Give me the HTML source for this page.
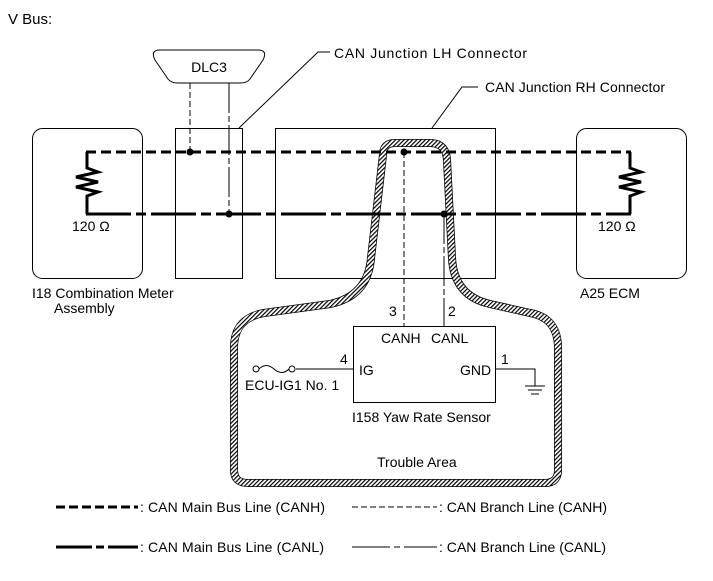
<!DOCTYPE html>
<html><head><style>body{margin:0;background:#fff}svg{display:block}text{font-family:"Liberation Sans",Arial,sans-serif;fill:#000}</style></head>
<body>
<svg width="713" height="581" viewBox="0 0 713 581" xmlns="http://www.w3.org/2000/svg">
<defs>
<pattern id="h" width="3" height="3" patternUnits="userSpaceOnUse" patternTransform="rotate(45)">
<rect width="3" height="3" fill="#fff"/><rect width="1.2" height="3" fill="#000"/>
</pattern>
</defs>
<text x="8" y="24" font-size="15">V Bus:</text>
<!-- DLC3 -->
<path d="M160 50 H258 Q268 50 263 60 L250 79 Q247 83 240 83 H178 Q171 83 168 79 L155 60 Q150 50 160 50 Z" fill="#fff" stroke="#000" stroke-width="1"/>
<text x="209" y="72" font-size="14" text-anchor="middle">DLC3</text>
<!-- boxes -->
<rect x="32.5" y="128.5" width="110" height="150" rx="10" fill="none" stroke="#000"/>
<rect x="175.5" y="128.5" width="67" height="150" fill="none" stroke="#000"/>
<rect x="275.5" y="128.5" width="220" height="150" fill="none" stroke="#000"/>
<rect x="576.5" y="128.5" width="110" height="150" rx="10" fill="none" stroke="#000"/>
<!-- leaders -->
<polyline points="239,128 318,52 330,52" fill="none" stroke="#000"/>
<text x="334" y="58" font-size="14" textLength="193">CAN Junction LH Connector</text>
<polyline points="432,128 462,87 478,87" fill="none" stroke="#000"/>
<text x="485" y="92" font-size="14" textLength="180">CAN Junction RH Connector</text>
<!-- trouble area -->
<path d="M383 155 Q383 143 395 143 H430 Q446 143 447 160 L452 258 Q454 296 490 304 L530 313 Q558 318 558 348 V470 Q558 483 545 483 H248 Q234 483 234 470 V348 Q234 318 264 313 L330 304 Q368 296 371 258 Z" fill="none" stroke="#000" stroke-width="8"/>
<path d="M383 155 Q383 143 395 143 H430 Q446 143 447 160 L452 258 Q454 296 490 304 L530 313 Q558 318 558 348 V470 Q558 483 545 483 H248 Q234 483 234 470 V348 Q234 318 264 313 L330 304 Q368 296 371 258 Z" fill="none" stroke="url(#h)" stroke-width="6.5"/>
<!-- resistors -->
<path d="M87 152 V168 L98 172 L76 177 L98 182 L76 187 L98 192 L87 196 V214" fill="none" stroke="#000" stroke-width="3"/>
<path d="M630 152 V168 L641 172 L619 177 L641 182 L619 187 L641 192 L630 196 V214" fill="none" stroke="#000" stroke-width="3"/>
<text x="72" y="231" font-size="14">120 Ω</text>
<text x="598" y="231" font-size="14">120 Ω</text>
<!-- main lines -->
<line x1="86" y1="152" x2="631" y2="152" stroke="#000" stroke-width="3" stroke-dasharray="10,5"/>
<line x1="86" y1="214" x2="631" y2="214" stroke="#000" stroke-width="3" stroke-dasharray="45,5,10,5"/>
<!-- branches -->
<line x1="190" y1="83" x2="190" y2="152" stroke="#000" stroke-width="1" stroke-dasharray="6,3"/>
<line x1="229" y1="83" x2="229" y2="214" stroke="#000" stroke-width="1" stroke-dasharray="30,3,6,3"/>
<line x1="404" y1="152" x2="404" y2="326" stroke="#000" stroke-width="1" stroke-dasharray="6,3"/>
<line x1="444" y1="214" x2="444" y2="326" stroke="#000" stroke-width="1" stroke-dasharray="30,3,6,3"/>
<circle cx="190" cy="152" r="3.5"/><circle cx="229" cy="214" r="3.5"/>
<circle cx="404" cy="152" r="3.5"/><circle cx="444" cy="214" r="3.5"/>
<text x="32" y="298" font-size="14">I18  Combination Meter</text>
<text x="54" y="313" font-size="14">Assembly</text>
<text x="580" y="298" font-size="14">A25  ECM</text>
<!-- sensor -->
<rect x="353.5" y="326.5" width="142" height="76" fill="none" stroke="#000"/>
<text x="389" y="316" font-size="14">3</text>
<text x="448" y="316" font-size="14">2</text>
<text x="381" y="343" font-size="14">CANH</text>
<text x="431" y="343" font-size="14">CANL</text>
<text x="359" y="375" font-size="14">IG</text>
<text x="460" y="375" font-size="14">GND</text>
<text x="340" y="364" font-size="14">4</text>
<text x="501" y="364" font-size="14">1</text>
<line x1="296" y1="369" x2="353" y2="369" stroke="#000"/>
<circle cx="256" cy="369" r="3" fill="#fff" stroke="#000"/>
<circle cx="292" cy="369" r="3" fill="#fff" stroke="#000"/>
<path d="M259 369 Q266 362 274 369 Q282 376 289 369" fill="none" stroke="#000"/>
<text x="245" y="390" font-size="14">ECU-IG1 No. 1</text>
<polyline points="495,369 535,369 535,386" fill="none" stroke="#000"/>
<line x1="525" y1="386" x2="545" y2="386" stroke="#000"/>
<line x1="528" y1="390" x2="542" y2="390" stroke="#000"/>
<line x1="531" y1="394" x2="539" y2="394" stroke="#000"/>
<text x="352" y="422" font-size="14">I158  Yaw Rate Sensor</text>
<text x="377" y="467" font-size="14">Trouble Area</text>
<!-- legend -->
<line x1="56" y1="507" x2="138" y2="507" stroke="#000" stroke-width="3" stroke-dasharray="9,4"/>
<text x="140" y="512" font-size="14" textLength="185">: CAN Main Bus Line (CANH)</text>
<line x1="352" y1="507" x2="437" y2="507" stroke="#000" stroke-width="1" stroke-dasharray="6,3"/>
<text x="439" y="512" font-size="14" textLength="168">: CAN Branch Line (CANH)</text>
<line x1="56" y1="547" x2="138" y2="547" stroke="#000" stroke-width="3" stroke-dasharray="36,4,8,4"/>
<text x="140" y="552" font-size="14" textLength="184">: CAN Main Bus Line (CANL)</text>
<line x1="352" y1="547" x2="437" y2="547" stroke="#000" stroke-width="1" stroke-dasharray="38,4,6,4"/>
<text x="439" y="552" font-size="14" textLength="167">: CAN Branch Line (CANL)</text>
</svg>
</body></html>
